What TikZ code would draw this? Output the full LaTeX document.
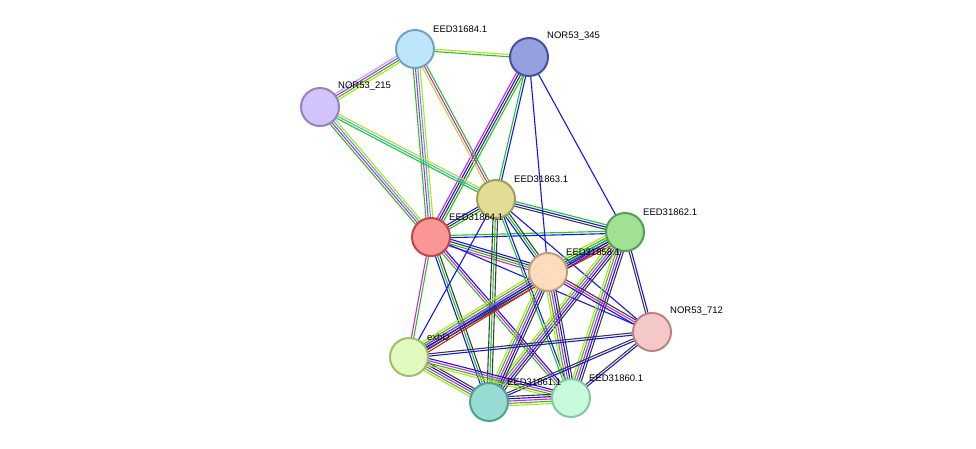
\documentclass[tikz,border=0pt]{standalone}
\usetikzlibrary{calc}
\usepackage{fontspec}
\setmainfont{Liberation Sans}
\definecolor{sg}{RGB}{30,200,30}
\definecolor{sb}{RGB}{20,20,240}
\definecolor{sk}{RGB}{60,60,60}
\definecolor{sm}{RGB}{220,30,220}
\definecolor{sc}{RGB}{40,190,210}
\definecolor{sy}{RGB}{190,220,30}
\definecolor{sr}{RGB}{240,20,20}
\definecolor{sl}{RGB}{160,170,250}
\tikzset{nd/.style={circle,minimum size=38pt,inner sep=0pt,line width=2pt},
lb/.style={font=\fontsize{9.5pt}{10pt}\selectfont,anchor=south west,inner sep=1pt}}
\newcommand\sedge[3]{%
 \foreach \c [count=\i] in {#3} {\xdef\nn{\i}}%
 \foreach \c [count=\i] in {#3} {%
  \pgfmathsetmacro\o{(\i-(\nn+1)/2)*2.3}%
  \draw[\c,line width=1.1pt] ($(#1)!\o pt!90:(#2)$) -- ($(#2)!\o pt!-90:(#1)$);}}
\begin{document}
\begin{tikzpicture}[x=1pt,y=-1pt]
\useasboundingbox (0,0) rectangle (976,448);
\coordinate (A) at (415,49);
\coordinate (B) at (529,57);
\coordinate (C) at (320,107);
\coordinate (D) at (496,199);
\coordinate (R) at (431,237);
\coordinate (E) at (625,232);
\coordinate (P) at (548,272);
\coordinate (F) at (652,332);
\coordinate (X) at (409,357);
\coordinate (G) at (489,402);
\coordinate (H) at (571,398);
\sedge{R}{A}{sy,sc,sm,sg}
\sedge{R}{B}{sg,sk,sb,sm}
\sedge{R}{C}{sy,sc,sm,sg}
\sedge{R}{D}{sg,sk,sb}
\sedge{R}{E}{sb,sg}
\sedge{R}{P}{sm,sg,sk,sb}
\sedge{R}{X}{sm,sg}
\sedge{R}{G}{sb,sg,sk}
\sedge{R}{H}{sg,sm,sb}
\sedge{R}{F}{sb}
\sedge{A}{C}{sl,sm,sg,sy}
\sedge{A}{B}{sg,sy}
\sedge{A}{D}{sy,sm,sg}
\sedge{B}{D}{sg,sb}
\sedge{B}{P}{sb}
\sedge{B}{E}{sb}
\sedge{C}{D}{sg,sc,sy}
\sedge{D}{E}{sk,sb,sg}
\sedge{D}{P}{sb,sg,sk}
\sedge{D}{F}{sb}
\sedge{D}{X}{sb}
\sedge{D}{G}{sk,sg,sk}
\sedge{D}{H}{sg,sb}
\sedge{E}{P}{sy,sg,sk,sb,sm,sr}
\sedge{E}{X}{sg,sb,sk}
\sedge{E}{G}{sy,sg,sm,sb,sk}
\sedge{E}{H}{sy,sg,sm,sb,sk}
\sedge{E}{F}{sk,sb}
\sedge{P}{X}{sy,sg,sm,sb,sk,sr}
\sedge{P}{G}{sy,sg,sm,sb,sk}
\sedge{P}{H}{sy,sg,sm,sb,sk}
\sedge{P}{F}{sb,sm,sk}
\sedge{F}{X}{sk,sb}
\sedge{F}{G}{sk,sb}
\sedge{F}{H}{sk,sb}
\sedge{X}{G}{sy,sg,sm,sb,sk}
\sedge{X}{H}{sy,sg,sm,sb}
\sedge{G}{H}{sy,sg,sm,sb,sk}
\node[nd,draw={rgb,255:red,120;green,160;blue,190},fill={rgb,255:red,190;green,230;blue,250}] (a) at (A) {};
\node[nd,draw={rgb,255:red,70;green,80;blue,160},fill={rgb,255:red,150;green,160;blue,225}] (b) at (B) {};
\node[nd,draw={rgb,255:red,150;green,130;blue,190},fill={rgb,255:red,210;green,195;blue,250}] (c) at (C) {};
\node[nd,draw={rgb,255:red,160;green,160;blue,90},fill={rgb,255:red,225;green,220;blue,150}] (d) at (D) {};
\node[nd,draw={rgb,255:red,190;green,70;blue,70},fill={rgb,255:red,250;green,150;blue,150}] (r) at (R) {};
\node[nd,draw={rgb,255:red,80;green,160;blue,80},fill={rgb,255:red,160;green,225;blue,150}] (e) at (E) {};
\node[nd,draw={rgb,255:red,190;green,160;blue,120},fill={rgb,255:red,255;green,220;blue,190}] (p) at (P) {};
\node[nd,draw={rgb,255:red,190;green,130;blue,130},fill={rgb,255:red,245;green,200;blue,200}] (f) at (F) {};
\node[nd,draw={rgb,255:red,160;green,190;blue,110},fill={rgb,255:red,225;green,250;blue,190}] (x) at (X) {};
\node[nd,draw={rgb,255:red,80;green,160;blue,150},fill={rgb,255:red,150;green,220;blue,210}] (g) at (G) {};
\node[nd,draw={rgb,255:red,130;green,200;blue,160},fill={rgb,255:red,200;green,250;blue,220}] (h) at (H) {};
\node[lb] at (432,34) {EED31684.1};
\node[lb] at (546,42) {NOR53\_345};
\node[lb] at (337,92) {NOR53\_215};
\node[lb] at (513,184) {EED31863.1};
\node[lb] at (448,222) {EED31864.1};
\node[lb] at (642,217) {EED31862.1};
\node[lb] at (565,257) {EED31858.1};
\node[lb] at (669,317) {NOR53\_712};
\node[lb] at (426,342) {exbD};
\node[lb] at (506,387) {EED31861.1};
\node[lb] at (588,383) {EED31860.1};
\end{tikzpicture}
\end{document}
